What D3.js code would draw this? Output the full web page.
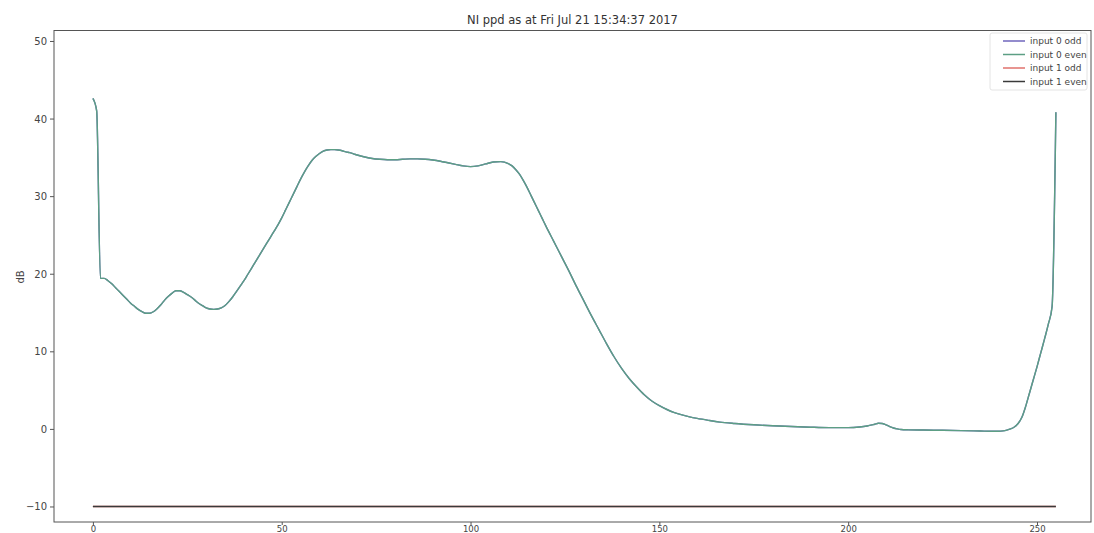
<!DOCTYPE html>
<html>
<head>
<meta charset="utf-8">
<script src="https://cdn.jsdelivr.net/npm/d3@7"></script>
<style>
  html, body { margin: 0; padding: 0; background: #fff; }
  svg { display: block; font-family: "DejaVu Sans", sans-serif; }
</style>
</head>
<body>
<svg id="chart" width="1094" height="533"></svg>
<script>
// Channel index (x) and ppd level in dB for input 0 (odd and even channels overlap)
const channel = [
  0,1,2,3,4,5,6,7,8,9,10,11,12,13,14,15,16,17,18,19,20,21,22,23,24,25,26,27,28,29,
  30,31,32,33,34,35,36,37,38,39,40,41,42,43,44,45,46,47,48,49,50,51,52,53,54,55,56,57,58,59,
  60,61,62,63,64,65,66,67,68,69,70,72,74,76,78,80,82,84,86,88,90,92,94,96,98,100,102,104,106,108,
  110,111,112,113,114,115,116,117,118,119,120,122,124,126,128,130,132,134,136,138,140,142,144,146,148,150,
  152,154,156,158,160,163,166,170,175,180,185,190,195,200,203,205,207,208,209,210,211,212,213,214,216,220,
  225,230,235,238,240,241,242,243,244,245,246,247,248,249,250,251,252,253,254,255
];
const input0Odd = [
  42.6,41.0,19.4,19.4,19.1,18.7,18.2,17.7,17.2,16.7,16.2,15.8,15.4,15.1,14.9,14.9,15.1,15.5,16.0,16.6,17.1,17.5,17.8,17.8,17.6,17.3,17.0,16.6,16.2,15.9,
  15.6,15.45,15.4,15.45,15.6,15.9,16.4,17.0,17.7,18.4,19.1,19.9,20.7,21.5,22.3,23.1,23.9,24.7,25.5,26.3,27.2,28.2,29.2,30.2,31.2,32.2,33.1,33.9,34.6,35.1,
  35.5,35.8,35.95,36.0,36.0,35.95,35.85,35.7,35.6,35.45,35.3,35.05,34.85,34.75,34.7,34.7,34.75,34.8,34.8,34.75,34.65,34.5,34.3,34.1,33.9,33.8,33.9,34.15,34.4,34.45,
  34.2,33.9,33.4,32.8,32.0,31.1,30.1,29.1,28.1,27.1,26.1,24.2,22.3,20.4,18.4,16.5,14.6,12.8,11.0,9.3,7.8,6.5,5.4,4.4,3.6,3.0,
  2.5,2.1,1.8,1.55,1.35,1.1,0.88,0.7,0.53,0.4,0.3,0.22,0.17,0.17,0.25,0.38,0.6,0.72,0.7,0.52,0.3,0.12,0.0,-0.08,-0.12,-0.15,
  -0.18,-0.22,-0.27,-0.3,-0.3,-0.25,-0.15,0.0,0.25,0.7,1.5,2.9,4.6,6.3,8.0,9.8,11.6,13.5,15.8,40.8
];
const input0Even = input0Odd.slice();
// Input 1 sits at the floor level on every channel
const input1Odd = channel.map(() => -10);
const input1Even = channel.map(() => -10);

const seriesNames = ["input 0 odd", "input 0 even", "input 1 odd", "input 1 even"];
const seriesColors = ["#6f66bd", "#5c9f84", "#e0726c", "#3a3a3a"];
const xTicks = [0, 50, 100, 150, 200, 250];
const yTicks = [-10, 0, 10, 20, 30, 40, 50];
const title = "NI ppd as at Fri Jul 21 15:34:37 2017";
const yLabel = "dB";

const svg = d3.select("#chart");
const W = 1094, H = 533;
const plot = { left: 54, right: 1091, top: 30.5, bottom: 522 };

const x = d3.scaleLinear().domain([-10.3, 264.3]).range([plot.left, plot.right]);
const y = d3.scaleLinear().domain([-12.0, 51.35]).range([plot.bottom, plot.top]);

svg.append("rect").attr("width", W).attr("height", H).attr("fill", "#fff");

const allSeries = [input0Odd, input0Even, input1Odd, input1Even];
const line = d3.line()
  .x((d, i) => x(channel[i]))
  .y(d => y(d))
  .curve(d3.curveMonotoneX);

const g = svg.append("g");
allSeries.forEach((vals, k) => {
  g.append("path")
    .datum(vals)
    .attr("fill", "none")
    .attr("stroke", seriesColors[k])
    .attr("stroke-width", k >= 2 ? 1.6 : 1.4)
    .attr("stroke-linejoin", "round")
    .attr("d", line);
});

// Axes
const axisColor = "#555";
const xAxis = d3.axisBottom(x).tickValues(xTicks).tickSize(3).tickPadding(1).tickFormat(d3.format("d"));
const yAxis = d3.axisLeft(y).tickValues(yTicks).tickSize(4).tickPadding(3).tickFormat(d3.format("d"));

const gx = svg.append("g").attr("transform", `translate(0,${plot.bottom})`).call(xAxis);
const gy = svg.append("g").attr("transform", `translate(${plot.left},0)`).call(yAxis);
[gx, gy].forEach(a => {
  a.select(".domain").remove();
  a.selectAll("line").attr("stroke", axisColor);
  a.selectAll("text").attr("fill", "#444").style("font-size", "10px")
    .style("font-family", "DejaVu Sans, sans-serif");
});
gy.selectAll("text").attr("dy", "0.35em");
gx.selectAll("text").style("font-size", "8.5px").attr("dy", "0.72em");

// Frame
svg.append("rect")
  .attr("x", plot.left).attr("y", plot.top)
  .attr("width", plot.right - plot.left).attr("height", plot.bottom - plot.top)
  .attr("fill", "none").attr("stroke", axisColor).attr("stroke-width", 1);

// Title
svg.append("text")
  .attr("x", (plot.left + plot.right) / 2).attr("y", 24)
  .attr("text-anchor", "middle")
  .attr("fill", "#333")
  .style("font-size", "11.5px")
  .text(title);

// Y label
svg.append("text")
  .attr("transform", `translate(24,277) rotate(-90)`)
  .attr("text-anchor", "middle")
  .attr("fill", "#444")
  .style("font-size", "10px")
  .text(yLabel);

// Legend
const leg = svg.append("g");
leg.append("rect")
  .attr("x", 990).attr("y", 33).attr("width", 97).attr("height", 57)
  .attr("fill", "#fff").attr("stroke", "#e4e4e4").attr("rx", 2);
seriesNames.forEach((name, k) => {
  const ly = 41 + k * 13.5;
  leg.append("line")
    .attr("x1", 1003).attr("x2", 1025).attr("y1", ly).attr("y2", ly)
    .attr("stroke", seriesColors[k]).attr("stroke-width", 1.5);
  leg.append("text")
    .attr("x", 1030).attr("y", ly).attr("dy", "0.35em")
    .attr("fill", "#444")
    .style("font-size", "9px")
    .text(name);
});
</script>
</body>
</html>
